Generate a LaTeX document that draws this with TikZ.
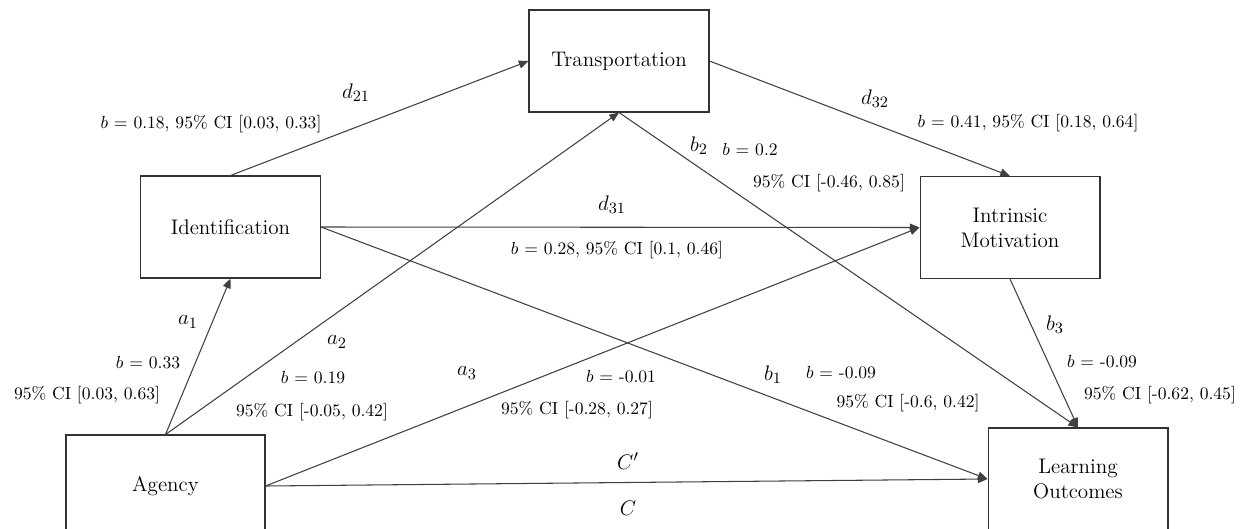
\documentclass[tikz,border=0pt]{standalone}
\usepackage{amsmath}
\usepackage{tikz}
\usetikzlibrary{arrows.meta,positioning}

\tikzset{
  varbox/.style={draw=black!80,line width=0.6pt,minimum width=3.6cm,minimum height=2.04cm,
    align=center,font=\fontsize{12}{14.2}\selectfont},
  path/.style={draw=black!75,line width=0.6pt,-{Triangle[length=5.5pt,width=4.5pt]}},
  coef/.style={font=\fontsize{10}{12}\selectfont,inner sep=1pt},
  pname/.style={font=\fontsize{12.5}{14}\selectfont,inner sep=1pt}
}

\begin{document}
\begin{tikzpicture}[x=0.02cm,y=-0.02cm]
  \clip (0,0) rectangle (1254,528);
  \fill[white] (0,0) rectangle (1254,528);
  \node[varbox] (trans) at (619,61) {Transportation};
  \node[varbox] (ident) at (230.5,227) {Identification};
  \node[varbox] (intr) at (1010,227.5) {Intrinsic\\Motivation};
  \node[varbox,minimum width=3.98cm] (agency) at (165.5,486) {Agency};
  \node[varbox] (learn) at (1078,479) {Learning\\Outcomes};

  \draw[path] (ident.north) -- (trans.west);
  \draw[path] (trans.east) -- (intr.north);
  \draw[path] (ident.east) -- (intr.west);
  \draw[path] (ident.east) -- (learn.west);
  \draw[path] (agency.north) -- (ident.south);
  \draw[path] (agency.north) -- (trans.south);
  \draw[path] (agency.east) -- (intr.west);
  \draw[path] (agency.east) -- (learn.west);
  \draw[path] (trans.south) -- (learn.north);
  \draw[path] (intr.south) -- (learn.north);

  \node[pname] (d21) at (356,93) {$d_{21}$};
  \node[coef] (d21b) at (211,124) {$b$ = 0.18, 95\% CI [0.03, 0.33]};
  \node[pname] (d32) at (875,99) {$d_{32}$};
  \node[coef] (d32b) at (1028,123) {$b$ = 0.41, 95\% CI [0.18, 0.64]};
  \node[pname] (d31) at (612,205) {$d_{31}$};
  \node[coef] (d31b) at (617,250) {$b$ = 0.28, 95\% CI [0.1, 0.46]};
  \node[pname] (b2) at (699,146) {$b_2$};
  \node[coef] (b2b) at (750,150) {$b$ = 0.2};
  \node[coef] (b2ci) at (829,183) {95\% CI [-0.46, 0.85]};
  \node[pname] (a1) at (188,322) {$a_1$};
  \node[coef] (a1b) at (148,363) {$b$ = 0.33};
  \node[coef] (a1ci) at (87,395) {95\% CI [0.03, 0.63]};
  \node[pname] (a2) at (337,342) {$a_2$};
  \node[coef] (a2b) at (313,378) {$b$ = 0.19};
  \node[coef] (a2ci) at (312,412) {95\% CI [-0.05, 0.42]};
  \node[pname] (a3) at (467,373) {$a_3$};
  \node[coef] (a3b) at (621,377) {$b$ = -0.01};
  \node[coef] (a3ci) at (577,410) {95\% CI [-0.28, 0.27]};
  \node[pname] (b1) at (773,375) {$b_1$};
  \node[coef] (b1b) at (841,373) {$b$ = -0.09};
  \node[coef] (b1ci) at (908,403) {95\% CI [-0.6, 0.42]};
  \node[pname] (b3) at (1055,325) {$b_3$};
  \node[coef] (b3b) at (1102,362) {$b$ = -0.09};
  \node[coef] (b3ci) at (1160,395) {95\% CI [-0.62, 0.45]};
  \node[pname] (cprime) at (628,461) {$C'$};
  \node[pname] (ctotal) at (628,508) {$C$};
\end{tikzpicture}
\end{document}
